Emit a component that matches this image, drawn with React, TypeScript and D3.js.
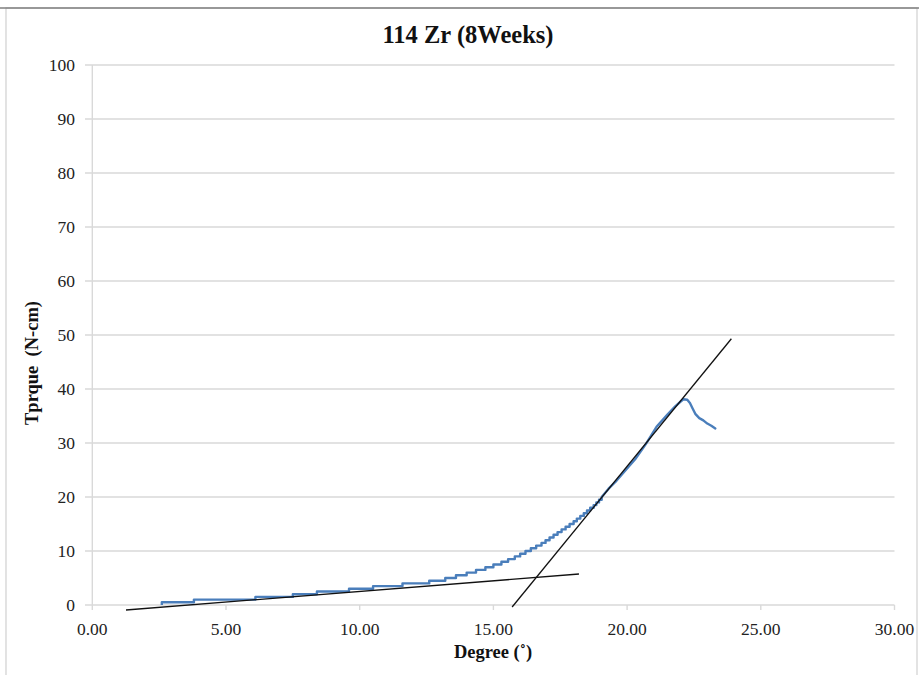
import React from "react";
import * as d3 from "d3";

const title = "114 Zr (8Weeks)";
const xLabel = "Degree (˚)";
const yLabel = "Tprque  (N-cm)";
const xTicks = [0, 5, 10, 15, 20, 25, 30];
const yTicks = [0, 10, 20, 30, 40, 50, 60, 70, 80, 90, 100];

// stepped part of the measured curve (level starts at degree)
const stepDegree = [2.6, 2.6, 3.8, 6.1, 7.5, 8.4, 9.6, 10.5, 11.6, 12.6, 13.2, 13.6, 14.0, 14.35, 14.7, 15.0, 15.3, 15.55, 15.8, 16.0, 16.2, 16.4, 16.6, 16.8, 16.95, 17.1, 17.25, 17.4, 17.55, 17.7, 17.85, 18.0, 18.12, 18.25, 18.38, 18.5, 18.62, 18.75, 18.85, 18.95, 19.05];
const stepTorque = [0, 0.5, 1.0, 1.5, 2.0, 2.5, 3.0, 3.5, 4.0, 4.5, 5.0, 5.5, 6.0, 6.5, 7.0, 7.5, 8.0, 8.5, 9.0, 9.5, 10.0, 10.5, 11.0, 11.5, 12.0, 12.5, 13.0, 13.5, 14.0, 14.5, 15.0, 15.5, 16.0, 16.5, 17.0, 17.5, 18.0, 18.5, 19.0, 19.5, 20.0];

// steep part of the curve
const tailDegree = [19.05, 19.3, 19.6, 19.95, 20.3, 20.7, 21.1, 21.5, 21.8, 22.1, 22.25, 22.35, 22.45, 22.55, 22.7, 22.85, 23.0, 23.15, 23.3];
const tailTorque = [20, 21.5, 23, 25, 27, 29.8, 33, 35.2, 36.8, 38.1, 38.0, 37.4, 36.4, 35.4, 34.6, 34.2, 33.6, 33.2, 32.7];

// tangent lines
const fit1Degree = [1.26, 18.2];
const fit1Torque = [-0.93, 5.74];
const fit2Degree = [15.7, 23.9];
const fit2Torque = [-0.37, 49.3];

const W = 919;
const H = 675;

export default function App() {
  const x = d3.scaleLinear().domain([0, 30]).range([92.3, 894.5]);
  const y = d3.scaleLinear().domain([0, 100]).range([605, 65]);

  const stepPts = stepDegree.map((d, i) => [d, stepTorque[i]] as [number, number]);
  const tailPts = tailDegree.map((d, i) => [d, tailTorque[i]] as [number, number]);
  const stepLine = d3.line<[number, number]>().x((d) => x(d[0])).y((d) => y(d[1])).curve(d3.curveStepAfter);
  const lin = d3.line<[number, number]>().x((d) => x(d[0])).y((d) => y(d[1]));
  const f1 = fit1Degree.map((d, i) => [d, fit1Torque[i]] as [number, number]);
  const f2 = fit2Degree.map((d, i) => [d, fit2Torque[i]] as [number, number]);

  const font = "'Liberation Serif', 'Times New Roman', serif";
  const blue = "#4a7ebb";

  return (
    <svg width={W} height={H} style={{ position: "absolute", left: 0, top: 0, background: "#fff" }} fontFamily={font}>
      <rect x={0} y={0} width={W} height={H} fill="#fff" />
      <rect x={6} y={8} width={911} height={680} fill="none" stroke="#d0d0d0" strokeWidth={1.2} />
      <line x1={0} x2={W} y1={8} y2={8} stroke="#7f7f7f" strokeWidth={1.5} />

      {yTicks.map((t) => (
        <g key={"y" + t}>
          <line x1={85} x2={x(30)} y1={y(t)} y2={y(t)} stroke="#d9d9d9" strokeWidth={1.4} />
          <text x={75} y={y(t)} dy="0.35em" textAnchor="end" fontSize={17.5} fill="#222">{t}</text>
        </g>
      ))}
      <line x1={x(0)} x2={x(0)} y1={y(100)} y2={y(0)} stroke="#d9d9d9" strokeWidth={1.4} />
      {xTicks.map((t) => (
        <g key={"x" + t}>
          <line x1={x(t)} x2={x(t)} y1={y(0)} y2={y(0) + 5} stroke="#d9d9d9" strokeWidth={1.4} />
          <text x={x(t)} y={635} textAnchor="middle" fontSize={17.5} fill="#222">{t.toFixed(2)}</text>
        </g>
      ))}

      <path d={stepLine(stepPts) || ""} fill="none" stroke={blue} strokeWidth={2.4} strokeLinejoin="round" />
      <path d={lin(tailPts) || ""} fill="none" stroke={blue} strokeWidth={2.4} strokeLinejoin="round" strokeLinecap="round" />

      <path d={lin(f1) || ""} fill="none" stroke="#111" strokeWidth={1.3} />
      <path d={lin(f2) || ""} fill="none" stroke="#111" strokeWidth={1.3} />

      <text x={468} y={43} textAnchor="middle" fontSize={24.5} fontWeight="bold" fill="#111">{title}</text>
      <text x={493} y={658} textAnchor="middle" fontSize={18.5} fontWeight="bold" fill="#111">{xLabel}</text>
      <text transform={`translate(38,363) rotate(-90)`} textAnchor="middle" fontSize={18.5} fontWeight="bold" fill="#111" style={{ whiteSpace: "pre" }}>{yLabel}</text>
    </svg>
  );
}
